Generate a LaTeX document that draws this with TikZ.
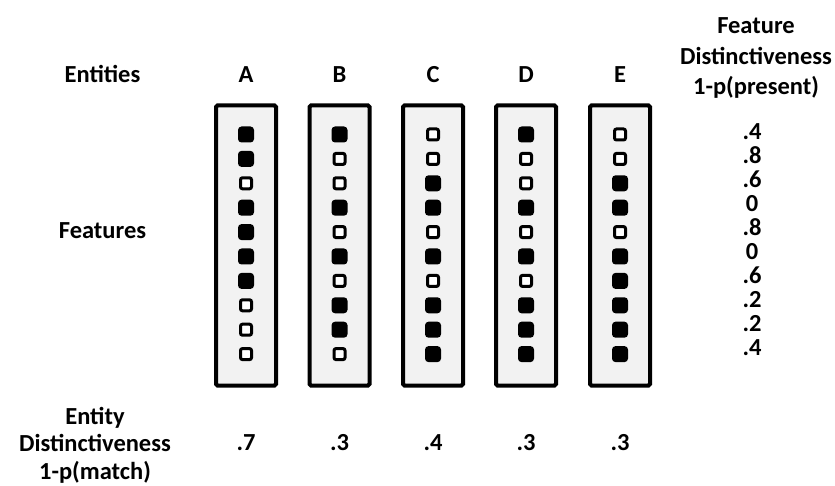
\documentclass[tikz,border=0pt]{standalone}
\usepackage{fontspec}
\setmainfont{Carlito}
\definecolor{boxgray}{HTML}{F2F2F2}
\begin{document}
\begin{tikzpicture}[x=1pt,y=-1pt,
  lbl/.style={font=\bfseries\fontsize{24.5}{30.5}\selectfont, inner sep=0pt, anchor=base, align=center},
  entbox/.style={draw=black, line width=4pt, fill=boxgray, minimum width=60pt,
    minimum height=280pt, rounded corners=1.5pt, inner sep=0pt},
  present/.style={fill=black, minimum size=16pt, rounded corners=3.5pt, inner sep=0pt},
  absent/.style={draw=black, fill=white, line width=3pt, minimum size=11pt,
    rounded corners=2pt, inner sep=0pt}]
\useasboundingbox (0,0) rectangle (835,486);

% row labels on the left (multi-line nodes sit on their last baseline)
\node[lbl] (entities) at (102.5,83) {Entities};
\node[lbl] (features) at (102.5,239) {Features};
\node[lbl, font=\bfseries\fontsize{24.5}{27.5}\selectfont] (entdist) at (95,479)
  {Entity\\Distinctiveness\\1-p(match)};

% feature distinctiveness column
\node[lbl] (featdist) at (756,95) {Feature\\Distinctiveness\\1-p(present)};
\node[lbl, font=\bfseries\fontsize{24.5}{24}\selectfont] (featvals) at (752,355.5)
  {.4\\.8\\.6\\0\\.8\\0\\.6\\.2\\.2\\.4};

% one column per entity: box, name, features (1 = present), distinctiveness
\foreach \name/\xc/\pat/\dist in {
    A/246/{1,1,0,1,1,1,1,0,0,0}/.7,
    B/339.5/{1,0,0,1,0,1,0,1,1,0}/.3,
    C/433/{0,0,1,1,0,1,0,1,1,1}/.4,
    D/526/{1,0,0,1,0,1,0,1,1,1}/.3,
    E/620/{0,0,1,1,0,1,1,1,1,1}/.3}{
  \node[entbox] (box\name) at (\xc,245.5) {};
  \node[lbl] (head\name) at (\xc,83) {\name};
  \node[lbl] (dist\name) at (\xc,450) {\dist};
  \foreach \f [count=\r] in \pat {
    \ifnum\f=1
      \node[present] (\name\r) at (\xc,{134.5+24.4*(\r-1)}) {};
    \else
      \node[absent] (\name\r) at (\xc,{134.5+24.4*(\r-1)}) {};
    \fi
  }
}
\end{tikzpicture}
\end{document}
